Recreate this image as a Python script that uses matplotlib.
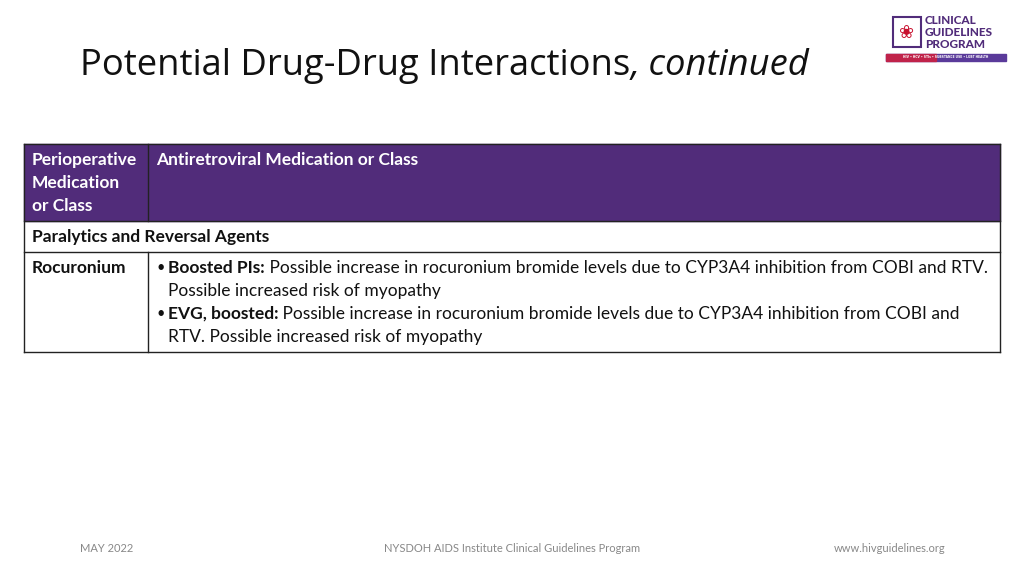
import matplotlib
matplotlib.use("Agg")
import matplotlib.pyplot as plt
from matplotlib.patches import Rectangle

TITLE_MAIN = "Potential Drug-Drug Interactions"
TITLE_ITALIC = ", continued"
HEADER_COL1 = ["Perioperative", "Medication", "or Class"]
HEADER_COL2 = "Antiretroviral Medication or Class"
SECTION = "Paralytics and Reversal Agents"
DRUG = "Rocuronium"
BULLETS = [
    ("Boosted PIs:", " Possible increase in rocuronium bromide levels due to CYP3A4 inhibition from COBI and RTV.",
     "Possible increased risk of myopathy"),
    ("EVG, boosted:", " Possible increase in rocuronium bromide levels due to CYP3A4 inhibition from COBI and",
     "RTV. Possible increased risk of myopathy"),
]
FOOTER = ["MAY 2022", "NYSDOH AIDS Institute Clinical Guidelines Program", "www.hivguidelines.org"]

FONT = "Lato"
PURPLE = "#512C7A"
fig = plt.figure(figsize=(10.24, 5.76), dpi=100)
ax = fig.add_axes([0, 0, 1, 1])
ax.set_xlim(0, 1024); ax.set_ylim(576, 0); ax.axis("off")

t = ax.text(80, 66, TITLE_MAIN, fontsize=26.2, family="Open Sans", color="#111111", va="center")
ax.annotate(TITLE_ITALIC, xy=(1, 0), xycoords=t, va="bottom", fontsize=26.2, family="Open Sans",
            style="italic", color="#111111")

# logo
ax.add_patch(Rectangle((893, 17), 28, 30, fill=False, ec=PURPLE, lw=1.5))
ax.text(907, 33, "\u2740", color="#C8102E", fontsize=13, ha="center", va="center", family="DejaVu Sans")
for i, w in enumerate(["CLINICAL", "GUIDELINES", "PROGRAM"]):
    ax.text(925, 21 + i * 11.5, w, fontsize=8.5, weight="heavy", color=PURPLE, family=FONT, va="center")
ax.add_patch(Rectangle((886, 54), 120, 7, color="#5A3A9A"))
ax.add_patch(Rectangle((886, 54), 50, 7, color="#C0234A"))
ax.text(946, 57.5, "HIV • HCV • STIs • SUBSTANCE USE • LGBT HEALTH", fontsize=2.2, color="white",
        ha="center", va="center", weight="bold")

# table
L, M, R = 24, 148, 1000
y0, y1, y2, y3 = 144, 221, 252, 352
ax.add_patch(Rectangle((L, y0), R - L, y1 - y0, color=PURPLE, zorder=1))
for y in (y0, y1, y2, y3):
    ax.plot([L, R], [y, y], color="#222222", lw=1, zorder=2)
ax.plot([L, L], [y0, y3], color="#222222", lw=1, zorder=2)
ax.plot([R, R], [y0, y3], color="#222222", lw=1, zorder=2)
ax.plot([M, M], [y0, y1], color="#222222", lw=1, zorder=2)
ax.plot([M, M], [y2, y3], color="#222222", lw=1, zorder=2)

fs = 12.5
for i, s in enumerate(HEADER_COL1):
    ax.text(32, 160 + i * 23, s, color="white", weight="bold", fontsize=fs, family=FONT, va="center")
ax.text(156, 160, HEADER_COL2, color="white", weight="bold", fontsize=fs, family=FONT, va="center")
ax.text(32, 237, SECTION, weight="bold", fontsize=fs, family=FONT, va="center", color="#111111")
ax.text(32, 268, DRUG, weight="bold", fontsize=fs, family=FONT, va="center", color="#111111")
for i, (b, rest, line2) in enumerate(BULLETS):
    y = 268 + i * 46
    ax.text(156, y, "•", fontsize=fs - 2, family=FONT, va="center", color="#111111")
    tb = ax.text(168, y, b, weight="bold", fontsize=fs, family=FONT, va="center", color="#111111")
    ax.annotate(rest, xy=(1, 0), xycoords=tb, va="bottom", fontsize=fs, family=FONT, color="#111111")
    ax.text(168, y + 23, line2, fontsize=fs, family=FONT, va="center", color="#111111")

ax.text(80, 549, FOOTER[0], fontsize=8, color="#888888", family=FONT, va="center")
ax.text(512, 549, FOOTER[1], fontsize=8, color="#888888", family=FONT, va="center", ha="center")
ax.text(945, 549, FOOTER[2], fontsize=8, color="#888888", family=FONT, va="center", ha="right")

fig.savefig("out.png", dpi=100)
